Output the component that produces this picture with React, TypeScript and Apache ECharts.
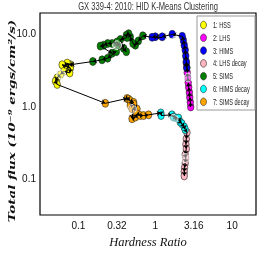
import React, { useEffect, useRef } from 'react';
import * as echarts from 'echarts';

// Legend categories and colours
const categories = ['1: HSS', '2: LHS', '3: HIMS', '4: LHS decay', '5: SIMS', '6: HIMS decay', '7: SIMS decay'];
const colors = ['#FFFF00', '#FF00FF', '#0000FF', '#FFB6C1', '#007F00', '#00FFFF', '#FFA500'];

// [hardness ratio, total flux (1e-9 erg/cm2/s)] per cluster, in time order
const lhs = [[2.89, 0.97], [2.85, 1.13], [2.81, 1.32], [2.77, 1.55], [2.72, 1.81], [2.68, 2.11], [2.64, 2.47], [2.6, 2.88], [2.57, 3.37], [2.53, 3.93]];
const hims = [[2.57, 3.37], [2.53, 4.06], [2.49, 4.89], [2.45, 5.89], [2.38, 6.88], [2.31, 8.04], [2.24, 9.11], [1.66, 9.69], [1.23, 8.97], [1.0, 8.97], [0.91, 8.83]];
const sims = [[0.688, 9.25], [0.601, 7.87], [0.55, 6.88], [0.513, 7.26], [0.473, 8.91], [0.45, 9.91], [0.42, 9.4], [0.429, 8.75], [0.351, 8.22], [0.388, 6.21], [0.42, 5.59], [0.334, 6.74], [0.318, 7.63], [0.274, 7.26], [0.24, 7.26], [0.213, 6.88], [0.193, 6.67], [0.274, 5.32], [0.311, 5.59], [0.24, 4.55], [0.203, 4.32], [0.154, 4.1]];
const hss = [[0.0787, 3.7], [0.0748, 3.7], [0.0713, 3.9], [0.0678, 3.5], [0.0614, 3.7], [0.0787, 3.33], [0.0771, 2.85], [0.0645, 3.0], [0.0584, 2.71], [0.0529, 2.44], [0.0503, 2.2], [0.0529, 1.98]];
const simsDecay = [[0.224, 1.09], [0.429, 1.27], [0.45, 1.24], [0.473, 1.18], [0.523, 1.12], [0.473, 1.01], [0.523, 1.06], [0.578, 0.911], [0.498, 0.911], [0.498, 0.667], [0.55, 0.703], [0.578, 0.78], [0.639, 0.739], [0.705, 0.739], [0.818, 0.756]];
const himsDecay = [[1.18, 0.804], [1.19, 0.739], [1.65, 0.756], [1.73, 0.703], [1.91, 0.682], [2.01, 0.682], [2.11, 0.602], [2.22, 0.571], [2.38, 0.515], [2.45, 0.474]];
const lhsDecay = [[2.58, 0.432], [2.53, 0.351], [2.5, 0.297], [2.53, 0.257], [2.45, 0.213], [2.5, 0.192], [2.45, 0.164], [2.4, 0.141], [2.38, 0.124], [2.38, 0.109]];
// cluster centroids
const centroids = [[0.0596, 2.71], [2.71, 2.47], [1.82, 7.87], [2.45, 0.192], [0.318, 6.88], [1.73, 0.667], [0.498, 0.911]];

// tick labels (log10 position -> label)
const xTickLabels: Record<string, string> = { '-1': '0.1', '-0.5': '0.32', '0': '1', '0.5': '3.16', '1': '10' };
const yTickLabels: Record<string, string> = { '-1': '0.1', '0': '1.0', '1': '10.0' };

const clusterData = [hss, lhs, hims, lhsDecay, sims, himsDecay, simsDecay];
const timeOrder = [lhs, hims, sims, hss, simsDecay, himsDecay, lhsDecay];

const SANS = "'Liberation Sans', Arial, sans-serif";
const ELLIPSE = 'path://M0,-1A1,1,0,1,1,0,1A1,1,0,1,1,0,-1z';
const toLog = (p: number[]) => [Math.log10(p[0]), Math.log10(p[1])];

export default function App() {
  const ref = useRef<HTMLDivElement>(null);
  useEffect(() => {
    if (!ref.current) return;
    const chart = echarts.init(ref.current, null, { renderer: 'svg' });
    const path = timeOrder.flat().map(toLog);
    const segs: any[] = [];
    for (let i = 1; i < path.length; i++) {
      segs.push({ coords: [path[i - 1], path[i]] });
    }
    const scatterSeries = categories.map((name, i) => ({
      type: 'scatter',
      name,
      data: clusterData[i].map(toLog),
      symbol: ELLIPSE,
      symbolSize: [6.5, 8],
      itemStyle: { color: colors[i], borderColor: '#222', borderWidth: 0.6, opacity: 1 },
      z: 2,
    }));
    // legend drawn as graphic so its text can be condensed like the reference
    const legendTop = 16;
    const legendItems: any[] = [
      {
        type: 'rect',
        shape: { x: 197, y: legendTop, width: 58, height: 94 },
        style: { fill: '#fff', stroke: '#999', lineWidth: 1 },
        z: 10,
      },
    ];
    categories.forEach((name, i) => {
      const cy = 25 + i * 12.8;
      legendItems.push({
        type: 'ellipse',
        shape: { cx: 203.5, cy, rx: 3, ry: 3.8 },
        style: { fill: colors[i], stroke: '#222', lineWidth: 0.6 },
        z: 11,
      });
      legendItems.push({
        type: 'text',
        x: 213,
        y: cy,
        scaleX: 0.66,
        style: { text: name, fontFamily: SANS, fontSize: 8.5, fill: '#222', align: 'left', verticalAlign: 'middle' },
        z: 11,
      });
    });
    chart.setOption({
      animation: false,
      grid: { left: 40, right: 13, top: 13, bottom: 40, show: true, borderColor: '#000', borderWidth: 1.2, backgroundColor: 'transparent' },
      xAxis: {
        type: 'value',
        min: -1.5,
        max: 1.31,
        interval: 0.5,
        axisLine: { show: false },
        axisTick: { show: false },
        splitLine: { show: false },
        axisLabel: {
          formatter: (v: number) => xTickLabels[String(Math.round(v * 2) / 2)] ?? '',
          fontFamily: SANS,
          fontSize: 10,
          color: '#111',
          margin: 5,
        },
        name: 'Hardness Ratio',
        nameLocation: 'middle',
        nameGap: 20,
        nameTextStyle: { fontFamily: "'Liberation Serif', serif", fontStyle: 'italic', fontSize: 12.5, color: '#111' },
      },
      yAxis: {
        type: 'value',
        min: -1.5,
        max: 1.28,
        interval: 0.5,
        axisLine: { show: false },
        axisTick: { show: false },
        splitLine: { show: false },
        axisLabel: {
          formatter: (v: number) => yTickLabels[String(Math.round(v * 2) / 2)] ?? '',
          fontFamily: SANS,
          fontSize: 10,
          color: '#111',
          margin: 4,
        },
      },
      graphic: [
        {
          type: 'text',
          x: 148,
          y: 6.5,
          scaleX: 0.76,
          style: {
            text: 'GX 339-4: 2010: HID K-Means Clustering',
            fontFamily: SANS,
            fontSize: 10,
            fill: '#333',
            align: 'center',
            verticalAlign: 'middle',
          },
        },
        {
          type: 'text',
          x: 12,
          y: 121,
          rotation: Math.PI / 2,
          scaleY: 0.72,
          style: {
            text: 'Total flux (10⁻⁹ ergs/cm²/s)',
            fontFamily: "'DejaVu Serif', serif",
            fontStyle: 'italic',
            fontWeight: 'bold',
            fontSize: 13.5,
            fill: '#111',
            align: 'center',
            verticalAlign: 'middle',
          },
        },
        ...legendItems,
      ],
      series: [
        ...scatterSeries,
        {
          type: 'lines',
          coordinateSystem: 'cartesian2d',
          data: segs,
          symbol: ['none', 'arrow'],
          symbolSize: 4,
          lineStyle: { color: '#000', width: 1, opacity: 1 },
          z: 3,
          silent: true,
        },
        {
          type: 'scatter',
          name: 'centroids',
          data: centroids.map(toLog),
          symbol: 'circle',
          symbolSize: 9,
          itemStyle: { color: 'rgba(255,255,255,0.55)', borderColor: '#fff', borderWidth: 1, borderType: 'dashed' },
          z: 4,
          silent: true,
        },
      ],
    });
    return () => chart.dispose();
  }, []);
  return <div ref={ref} style={{ position: 'fixed', left: 0, top: 0, width: 269, height: 255 }} />;
}
